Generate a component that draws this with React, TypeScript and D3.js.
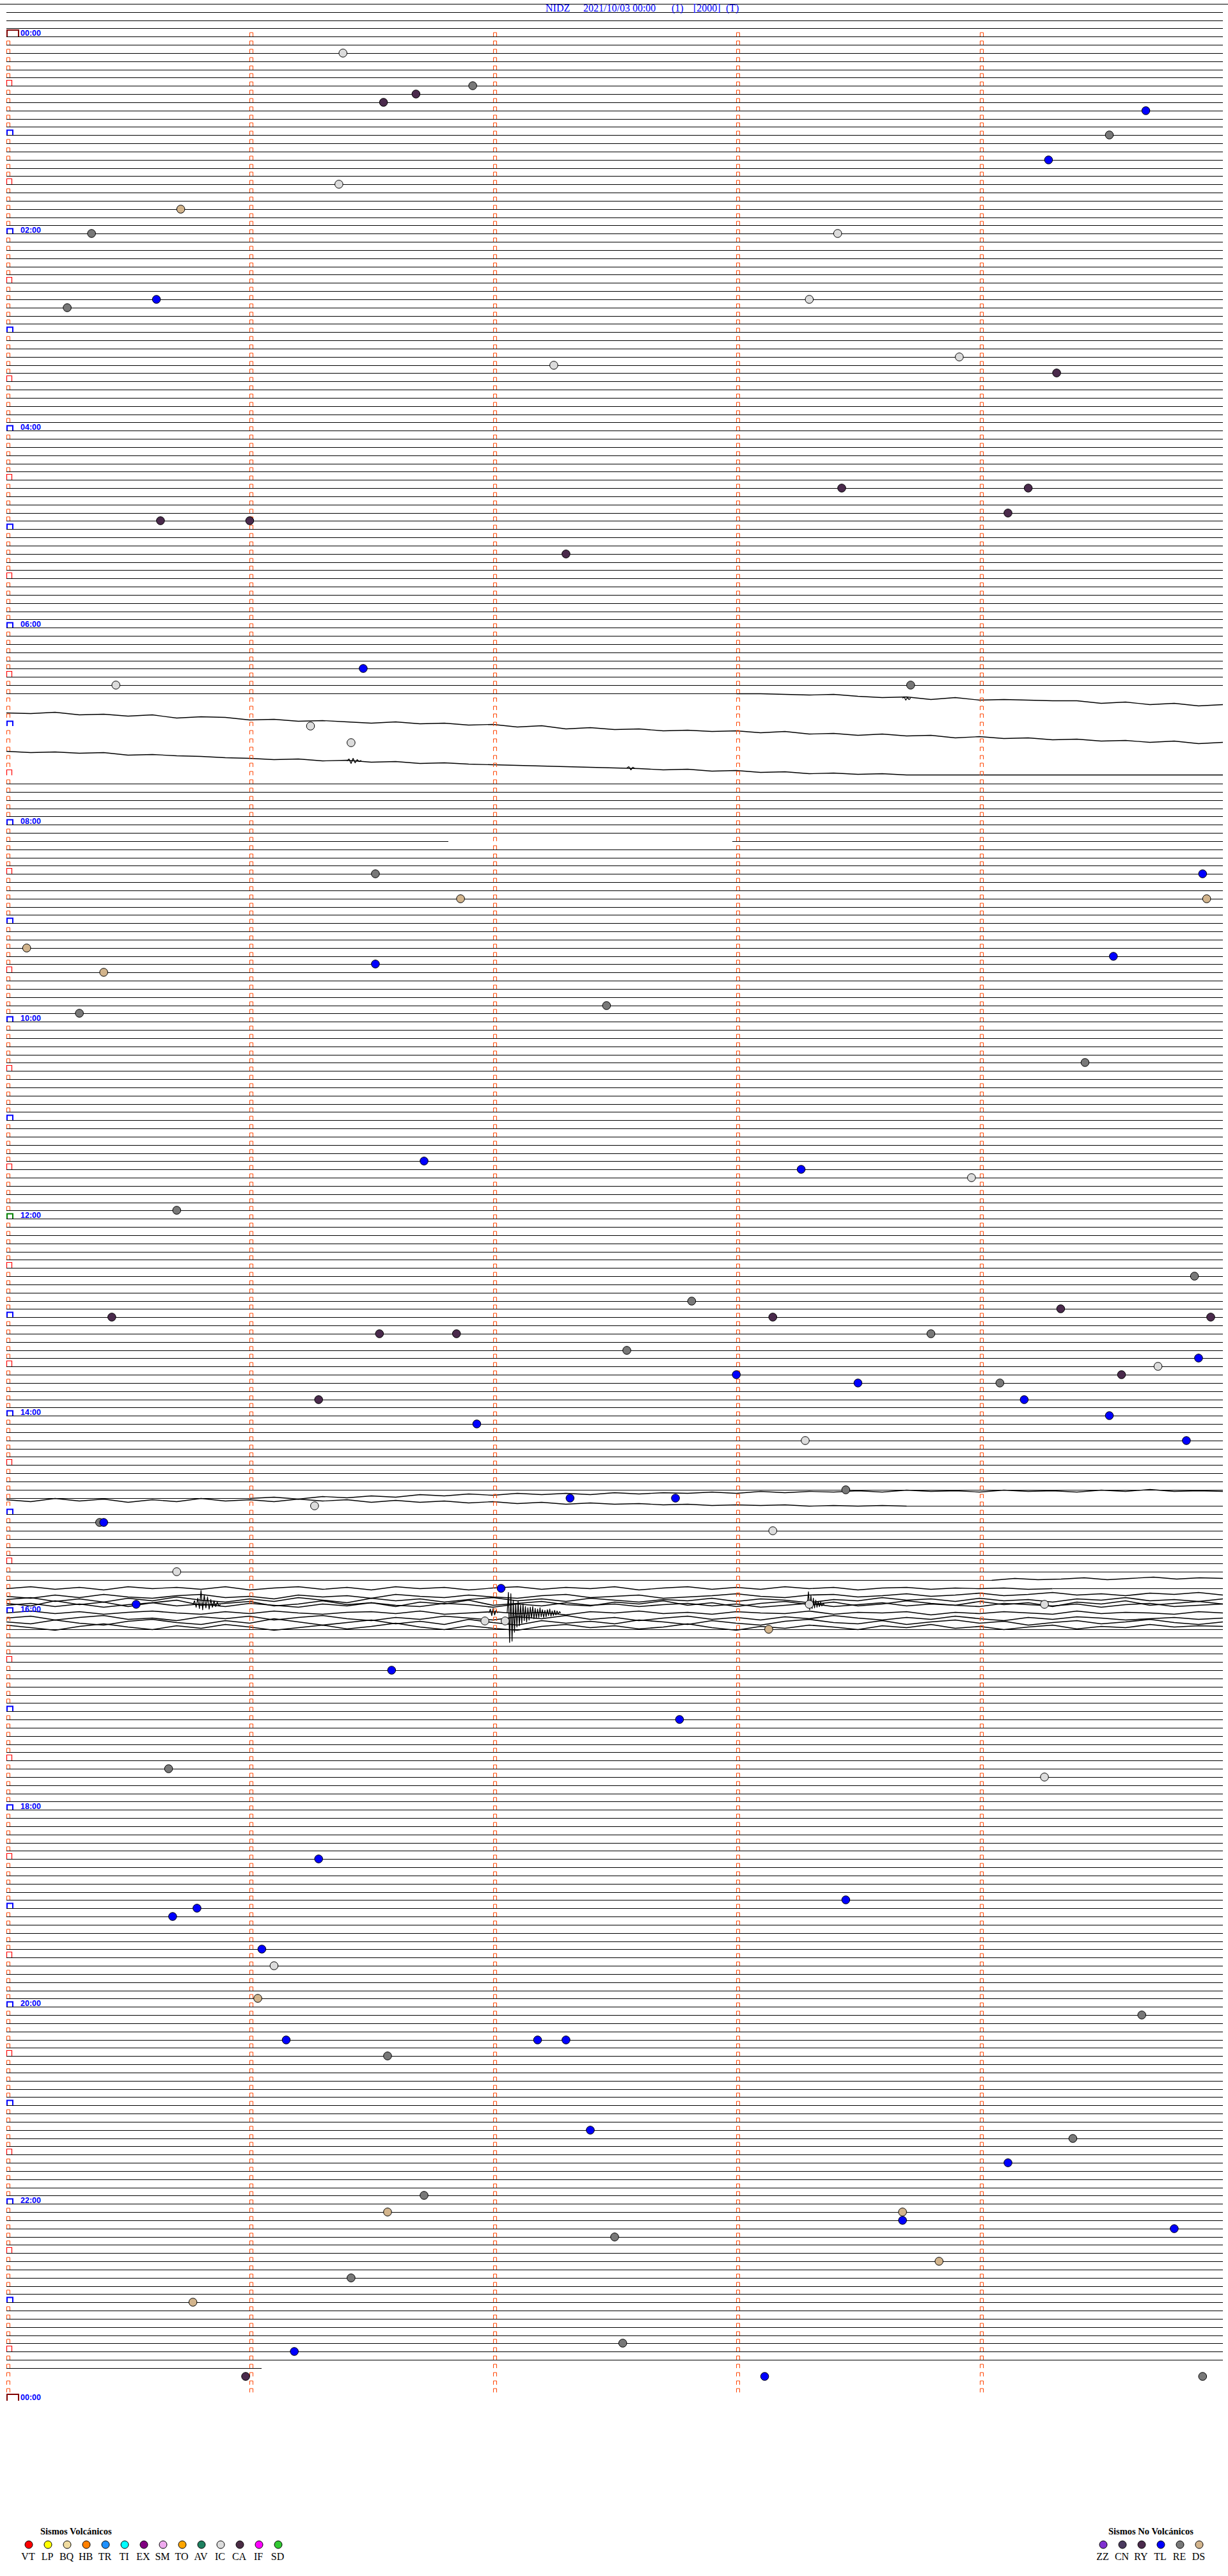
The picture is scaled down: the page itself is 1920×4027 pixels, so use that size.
import React, { useRef, useEffect } from 'react';
import * as d3 from 'd3';

// helicorder of one day: 288 lines of 5 minutes each
const TITLE_PARTS = ['NIDZ', '2021/10/03 00:00', '(1)', '[2000]', '(T)'];
const TITLE_X = [853, 912, 1050, 1084, 1135];
const HOUR_LABELS = ['00:00', '02:00', '04:00', '06:00', '08:00', '10:00', '12:00', '14:00', '16:00', '18:00', '20:00', '22:00', '00:00'];

const VOLCANIC = ['VT', 'LP', 'BQ', 'HB', 'TR', 'TI', 'EX', 'SM', 'TO', 'AV', 'IC', 'CA', 'IF', 'SD'];
const VOLCANIC_COLORS = ['#FF0000', '#FFFF00', '#F0DCA0', '#FF8000', '#1E90FF', '#00FFFF', '#800080', '#EEAAEE', '#FFA500', '#1E8060', '#DCDCDC', '#4A2C45', '#FF00FF', '#32C832'];
const NON_VOLCANIC = ['ZZ', 'CN', 'RY', 'TL', 'RE', 'DS'];
const NON_VOLCANIC_COLORS = ['#8030D0', '#4A3A5E', '#4A2A4C', '#0000FF', '#787878', '#D2B48C'];

// rows whose straight trace is only partly drawn (seconds inside the 5 minute line)
const LINE_SEGMENTS: Record<number, [number, number][]> = {
  80: [[0, 180]],
  81: [], 82: [], 83: [], 84: [], 85: [], 86: [], 87: [], 88: [], 89: [], 90: [],
  98: [[0, 109], [179, 300]],
  178: [[0, 60]],
  179: [[222, 300]],
  188: [[0, 243]],
  189: [[258, 300]],
  190: [], 191: [], 192: [], 193: [],
  284: [[0, 63]],
};
const LAST_ROW = 284;

// trace deflections (amplitude units), sampled every `step` seconds
const ROW80_TAIL = [0, 0, 1, 2, 1, 4, 6, 5, 9, 6, 10, 9, 10, 11, 11, 15, 13, 17, 15, 19, 17];
const ROW81 = [17, 18, 16, 20, 19, 22, 20, 25, 23, 24, 28, 27, 30, 29, 31, 33, 31, 34, 33, 36, 35, 39, 37, 42, 40, 43, 42, 45, 44, 46, 45, 48, 46, 50, 49, 52, 50, 53, 52, 56, 54, 57, 56, 59, 58, 61, 60, 63, 61, 65, 63];
const ROW82 = [64, 66, 65, 67, 66, 70, 69, 71, 72, 74, 75, 77, 76, 79, 78, 81, 80, 83, 82, 84, 85, 86, 87, 88, 89, 90, 91, 93, 92, 95, 94, 97, 96, 99, 98, 100, 99, 101, 101, 101, 101, 101, 101, 101, 101, 101, 101, 101, 101, 101, 101];
const ROW178_TAIL = [0, -2, 1, -3, -1, -4, -2, -6, -4, -7, -5, -8, -6, -8, -6, -9, -7, -9, -8, -10, -8, -11, -9, -11, -10, -12, -10, -13, -11, -12, -10, -13, -11, -12, -10, -13, -11, -14, -11, -12, -11];
const ROW179_HEAD = [-10, -7, -12, -8, -11, -6, -10, -7, -12, -8, -10, -7, -11, -8, -10, -6, -9, -6, -8, -5, -7, -4, -6, -3, -5, -3, -4, -2, -3, -1, -2, -1, -2, 0, -1, 0, -1, 0];
const ROW188_TAIL = [0, -3, -1, -2, -4, -1, -3, -5, -2, -4, -3];
const ROW189 = [0, -3, 1, -2, 2, -3, 0, -2, 1, -3, 2, -1, -3, 1, -2, 2, -3, 0, -2, 2, -1, -3, 1, -2, 0, -3, 2, -1, -3, 1, -2, 1, -3, 0, -2, 2, -1, -2, 1, -1, 0, -1, 1, 0];
const BAND_A = [4, 1, 7, 3, 8, 2, 6, 0, 5, 8, 3, 7, 1, 5, 9, 2, 6, 3, 8, 4, 1, 6, 3, 7, 2, 5, 8, 4, 6, 2, 7, 3, 5, 9, 4, 6, 1, 5, 3, 7, 2, 6, 4, 8, 3, 5, 1, 6, 4, 7, 3];
const BAND_B = [10, 14, 6, 12, 8, 15, 9, 5, 13, 10, 7, 14, 11, 6, 12, 9, 15, 8, 11, 5, 13, 10, 7, 12, 14, 8, 11, 6, 13, 9, 15, 10, 7, 12, 8, 14, 11, 6, 10, 13, 7, 12, 9, 15, 8, 11, 6, 13, 10, 7, 11];
const BAND_C = [-1, 2, -3, 1, -4, 0, 2, -2, -4, 1, -1, 3, -3, 0, -2, 2, -4, -1, 1, -3, 0, 2, -2, -4, 1, -1, -3, 2, 0, -2, -5, -1, 1, -3, -4, 0, -2, -5, -1, -3, -6, -2, -4, -7, -3, -5, -2, -6, -4, -7, -3];
const BAND_D = [1, -2, 3, -1, 4, 0, -3, 2, -1, 3, -2, 1, 4, -1, 2, -3, 1, 3, -2, 0, 4, -1, 2, -3, 1, -1, 3, 0, -2, 2, -1, 4, 1, -2, 3, 0, -3, 2, -1, 1, 3, -2, 0, 2, -1, 4, 0, -2, 3, 1, -1];
const BAND_E = [0, -3, 1, -2, 2, -1, -3, 0, 2, -2, 1, -3, 0, 2, -1, -2, 1, -3, 2, 0, -2, 1, -1, 3, -2, 0, -3, 1, -1, 2, -2, 0, 1, -3, 2, -1, 0, -2, 3, -1, 1, -2, 0, 2, -3, 1, -1, 0, 2, -2, 0];
const BAND_F = [-5, -8, -2, -6, -9, -3, -5, -1, -7, -4, -8, -2, -6, -9, -4, -1, -6, -3, -8, -5, -2, -7, -4, -9, -3, -6, -1, -5, -8, -3, -6, -2, -7, -4, -9, -5, -2, -6, -3, -8, -4, -1, -6, -3, -7, -5, -2, -4, -6, -3, -5];
const BAND_G = [1, 4, -2, 3, 6, 0, -3, 2, 5, -1, 3, -4, 1, 6, 2, -2, 4, 0, 5, -3, 2, 6, -1, 3, 0, 4, -2, 1, 5, -1, 3, 6, 0, -3, 2, 4, -1, 5, 1, -2, 3, 0, 6, 2, -1, 4, 1, -3, 2, 5, 1];
const BAND_H = [6, 10, 14, 8, 4, 9, 13, 7, 11, 5, 9, 14, 10, 6, 12, 8, 3, 9, 13, 7, 11, 14, 8, 5, 10, 7, 12, 9, 4, 10, 14, 8, 11, 6, 9, 13, 7, 10, 5, 11, 8, 13, 9, 6, 12, 8, 10, 5, 9, 7, 8];
// short bursts (events written on the drum)
const BURST_80 = [7, 5, 10, 6, 9, 7];
const BURST_82A = [79, 76, 83, 75, 82, 77, 80, 78];
const BURST_82B = [90, 88, 93, 89, 91];
const QUAKE_MAIN = [0, -32, 46, -30, 44, -20, 30, -15, 22, -18, 20, -12, 16, -14, 12, -10, 14, -8, 11, -9, 8, -10, 9, -7, 8, -6, 7, -8, 6, -5, 7, -4, 6, -5, 4, -6, 5, -3, 4, -4, 3, -3, 2, -2, 0];
const QUAKE_B = [0, -20, 8, -14, 6, -10, 5, -7, 4, -5, 3, -4, 2, -2, 0];
const QUAKE_C = [0, -6, 4, -10, 6, -22, 8, -15, 5, -12, 7, -8, 4, -6, 3, -4, 2, 0];
const QUAKE_D = [0, -6, 4, -7, 3, -4, 0];

const EXCURSIONS = [
  { row: 80, start: 180, step: 6, amps: ROW80_TAIL },
  { row: 80, start: 221, step: 0.4, amps: BURST_80 },
  { row: 81, start: 0, step: 6, amps: ROW81 },
  { row: 82, start: 0, step: 6, amps: ROW82 },
  { row: 82, start: 84, step: 0.5, amps: BURST_82A },
  { row: 82, start: 153, step: 0.5, amps: BURST_82B },
  { row: 178, start: 60, step: 6, amps: ROW178_TAIL },
  { row: 179, start: 0, step: 6, amps: ROW179_HEAD },
  { row: 188, start: 243, step: 5.7, amps: ROW188_TAIL },
  { row: 189, start: 0, step: 6, amps: ROW189 },
  { row: 190, start: 0, step: 6, amps: BAND_A, band: true },
  { row: 190, start: 0, step: 6, amps: BAND_B, band: true },
  { row: 190, start: 0, step: 6, amps: BAND_C, band: true },
  { row: 191, start: 0, step: 6, amps: BAND_D, band: true },
  { row: 192, start: 0, step: 6, amps: BAND_E, band: true },
  { row: 193, start: 0, step: 6, amps: BAND_F, band: true },
  { row: 193, start: 0, step: 6, amps: BAND_G, band: true },
  { row: 193, start: 0, step: 6, amps: BAND_H, band: true },
  { row: 192, start: 123.5, step: 0.3, amps: QUAKE_MAIN },
  { row: 191, start: 197.5, step: 0.3, amps: QUAKE_B },
  { row: 191, start: 46, step: 0.4, amps: QUAKE_C },
  { row: 192, start: 119, step: 0.35, amps: QUAKE_D },
];

// picked events: time of onset and class
const EVENTS: [string, string][] = [
  ['00:11:23', 'IC'], ['00:31:55', 'RE'], ['00:36:41', 'RY'], ['00:41:33', 'RY'], ['00:49:41', 'TL'],
  ['01:04:32', 'RE'], ['01:19:17', 'TL'], ['01:31:22', 'IC'], ['01:45:43', 'DS'], ['02:00:21', 'RE'],
  ['02:03:25', 'IC'], ['02:40:37', 'TL'], ['02:43:18', 'IC'], ['02:45:15', 'RE'], ['03:18:55', 'IC'],
  ['03:22:15', 'IC'], ['03:29:19', 'RY'], ['04:38:26', 'RY'], ['04:39:12', 'RY'], ['04:54:07', 'RY'],
  ['04:55:38', 'RY'], ['04:56:00', 'RY'], ['05:17:18', 'RY'], ['06:26:28', 'TL'], ['06:35:27', 'IC'],
  ['06:38:43', 'RE'], ['07:01:15', 'IC'], ['07:11:25', 'IC'], ['08:31:31', 'RE'], ['08:34:55', 'TL'],
  ['08:46:52', 'DS'], ['08:49:56', 'DS'], ['09:15:05', 'DS'], ['09:24:33', 'TL'], ['09:26:31', 'TL'],
  ['09:30:24', 'DS'], ['09:52:28', 'RE'], ['09:55:18', 'RE'], ['10:29:26', 'RE'], ['11:26:43', 'TL'],
  ['11:33:16', 'TL'], ['11:38:58', 'IC'], ['11:55:42', 'RE'], ['12:39:53', 'RE'], ['12:52:49', 'RE'],
  ['12:59:20', 'RY'], ['13:00:26', 'RY'], ['13:03:09', 'RY'], ['13:04:57', 'RY'], ['13:11:32', 'RY'],
  ['13:11:51', 'RY'], ['13:13:48', 'RE'], ['13:22:33', 'RE'], ['13:29:54', 'TL'], ['13:34:44', 'IC'],
  ['13:38:00', 'TL'], ['13:39:35', 'RY'], ['13:43:30', 'TL'], ['13:44:05', 'RE'], ['13:51:17', 'RY'],
  ['13:54:11', 'TL'], ['14:04:32', 'TL'], ['14:06:56', 'TL'], ['14:18:17', 'IC'], ['14:19:51', 'TL'],
  ['14:48:27', 'RE'], ['14:52:19', 'TL'], ['14:52:45', 'TL'], ['14:56:16', 'IC'], ['15:05:23', 'RE'],
  ['15:05:24', 'TL'], ['15:13:09', 'IC'], ['15:35:42', 'IC'], ['15:47:02', 'TL'], ['15:55:32', 'TL'],
  ['15:58:18', 'IC'], ['15:59:16', 'IC'], ['16:06:58', 'IC'], ['16:07:03', 'IC'], ['16:13:08', 'DS'],
  ['16:36:35', 'TL'], ['17:07:46', 'TL'], ['17:35:40', 'RE'], ['17:44:16', 'IC'], ['18:31:17', 'TL'],
  ['18:58:27', 'TL'], ['19:00:47', 'TL'], ['19:05:41', 'TL'], ['19:26:03', 'TL'], ['19:36:06', 'IC'],
  ['19:56:02', 'DS'], ['20:09:40', 'RE'], ['20:21:09', 'TL'], ['20:22:11', 'TL'], ['20:22:18', 'TL'],
  ['20:31:34', 'RE'], ['21:17:24', 'TL'], ['21:24:23', 'RE'], ['21:39:07', 'TL'], ['21:56:43', 'RE'],
  ['22:06:34', 'DS'], ['22:08:41', 'DS'], ['22:13:41', 'TL'], ['22:19:48', 'TL'], ['22:22:30', 'RE'],
  ['22:38:50', 'DS'], ['22:46:25', 'RE'], ['23:00:46', 'DS'], ['23:27:32', 'RE'], ['23:31:11', 'TL'],
  ['23:45:59', 'RY'], ['23:48:07', 'TL'], ['23:49:55', 'RE'],
];

const App = () => {
  const svgRef = useRef<SVGSVGElement>(null);

  useEffect(() => {
    const svg = d3.select(svgRef.current);
    svg.selectAll('*').remove();

    const width = 1920;
    const x = d3.scaleLinear().domain([0, 300]).range([10, 1912]);
    const rowScale = d3.scaleLinear().domain([0, 288]).range([57.3, 57.3 + 288 * 12.833]);
    const yRow = (r: number) => Math.round(rowScale(r)) + 0.5;
    const amp = d3.scaleLinear().domain([0, 10]).range([0, 10]);

    const colorOf: Record<string, string> = {};
    VOLCANIC.forEach((k, i) => (colorOf[k] = VOLCANIC_COLORS[i]));
    NON_VOLCANIC.forEach((k, i) => (colorOf[k] = NON_VOLCANIC_COLORS[i]));

    svg.append('rect').attr('width', width).attr('height', 4027).attr('fill', '#fff');

    // frame line under the title
    svg.append('line').attr('x1', 0).attr('x2', width).attr('y1', 6.5).attr('y2', 6.5)
      .attr('stroke', '#000').attr('shape-rendering', 'crispEdges');

    // straight traces
    const flat = svg.append('g').attr('stroke', '#000').attr('stroke-width', 1).attr('shape-rendering', 'crispEdges');
    for (let r = -3; r <= LAST_ROW; r++) {
      const segs = LINE_SEGMENTS[r] ?? [[0, 300]];
      segs.forEach(([a, b]) => {
        flat.append('line').attr('x1', x(a)).attr('x2', x(b)).attr('y1', yRow(r)).attr('y2', yRow(r));
      });
    }

    // wavy parts of the record
    const line = d3.line<[number, number]>().x(d => d[0]).y(d => d[1]);
    const wav = svg.append('g').attr('fill', 'none').attr('stroke', '#000').attr('stroke-linejoin', 'round');
    EXCURSIONS.forEach(ex => {
      const pts: [number, number][] = ex.amps.map((v, i) => [x(ex.start + i * ex.step), yRow(ex.row) + amp(v)]);
      wav.append('path').attr('d', line(pts)).attr('stroke-width', ex.band ? 1.6 : 1.3);
    });

    // minute ticks and hour / half hour marks
    const marks = svg.append('g').attr('fill', 'none');
    const cap = (x0: number, b: number, w: number, h: number) => `M${x0},${b} V${b - h} H${x0 + w} V${b}`;
    for (let r = 0; r < 288; r++) {
      const b = yRow(r) - 0.5;
      [1, 2, 3, 4].forEach(m => {
        marks.append('path').attr('d', cap(Math.round(x(m * 60)) + 0.5, b, 5, 6))
          .attr('stroke', '#FF4500').attr('stroke-width', 1);
      });
      if (r === 0) continue;
      if (r % 12 === 0) {
        marks.append('path').attr('d', cap(11, b, 9, 7.5))
          .attr('stroke', r === 144 ? '#008000' : '#0000FF').attr('stroke-width', 2);
      } else if (r % 6 === 0) {
        marks.append('path').attr('d', cap(10.5, b, 8, 8.5)).attr('stroke', '#FF0000').attr('stroke-width', 1.2);
      } else {
        marks.append('path').attr('d', cap(10.5, b, 5, 6)).attr('stroke', '#FF4500').attr('stroke-width', 1);
      }
    }
    [0, 288].forEach(r => {
      const b = yRow(r) - 0.5;
      marks.append('path').attr('d', cap(11, b, 18, 10)).attr('stroke', '#800000').attr('stroke-width', 2);
    });

    // hour labels every two hours
    HOUR_LABELS.forEach((lab, i) => {
      svg.append('text').attr('x', 32).attr('y', yRow(i * 24) - 1.5)
        .attr('font-family', '"Liberation Sans", Arial, sans-serif').attr('font-weight', 'bold')
        .attr('font-size', 12.5).attr('fill', '#0000FF').text(lab);
    });

    // events
    const ev = svg.append('g').attr('stroke', '#000').attr('stroke-width', 1);
    EVENTS.forEach(([t, k]) => {
      const [hh, mm, ss] = t.split(':').map(Number);
      const s = hh * 3600 + mm * 60 + ss;
      const r = Math.floor(s / 300);
      ev.append('circle').attr('cx', x(s - r * 300)).attr('cy', yRow(r) - 0.5).attr('r', 6.3)
        .attr('fill', colorOf[k]);
    });

    // title
    const title = svg.append('text').attr('y', 17.5).attr('font-family', '"Liberation Serif", "Times New Roman", serif')
      .attr('font-size', 16).attr('fill', '#0000FF');
    TITLE_PARTS.forEach((p, i) => title.append('tspan').attr('x', TITLE_X[i]).text(p));

    // legends
    const legend = (keys: string[], cols: string[], x0: number, titleX: number, label: string) => {
      const g = svg.append('g').attr('font-family', '"Liberation Serif", "Times New Roman", serif');
      g.append('text').attr('x', titleX).attr('y', 3962).attr('font-size', 14.5).attr('font-weight', 'bold').text(label);
      keys.forEach((k, i) => {
        g.append('circle').attr('cx', x0 + i * 30).attr('cy', 3978).attr('r', 6)
          .attr('fill', cols[i]).attr('stroke', '#000').attr('stroke-width', 1);
        g.append('text').attr('x', x0 + i * 30 - 1).attr('y', 4002).attr('text-anchor', 'middle')
          .attr('font-size', 16).text(k);
      });
    };
    legend(VOLCANIC, VOLCANIC_COLORS, 45, 63, 'Sismos Volcánicos');
    legend(NON_VOLCANIC, NON_VOLCANIC_COLORS, 1725, 1733, 'Sismos No Volcánicos');
  }, []);

  return (
    <svg ref={svgRef} width={1920} height={4027}
      style={{ position: 'absolute', left: 0, top: 0, display: 'block' }} />
  );
};

export default App;
